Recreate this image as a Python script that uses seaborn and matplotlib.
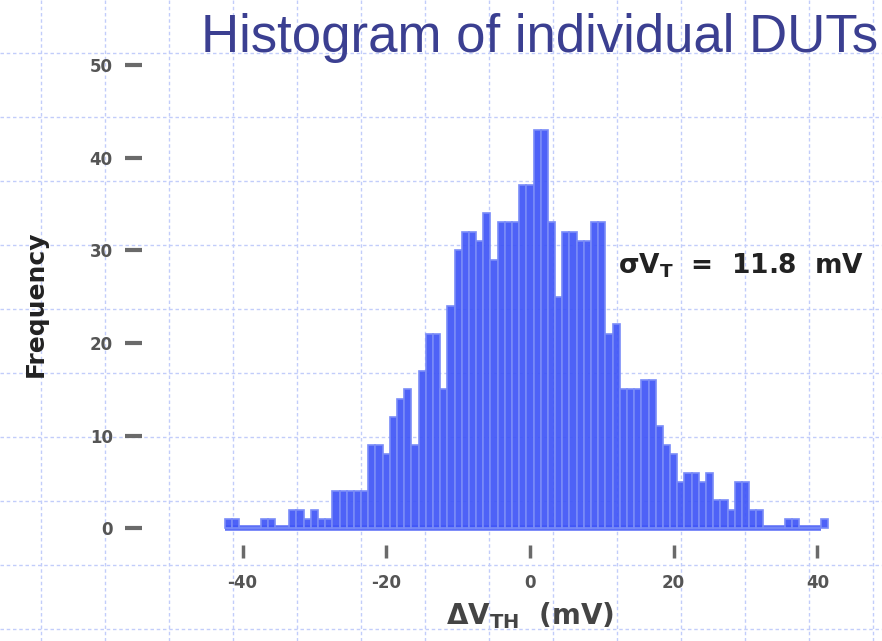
import numpy as np
import pandas as pd
import matplotlib
matplotlib.use("Agg")
import matplotlib.pyplot as plt
import seaborn as sns

# ---- data ----
bin_first_center = -42          # mV, bins are 1 mV wide
counts = [1, 1, 0, 0, 0, 1, 1, 0, 0, 2,
          2, 1, 2, 1, 1, 4, 4, 4, 4, 4,
          9, 9, 8, 12, 14, 15, 9, 17, 21, 21,
          15, 24, 30, 32, 32, 31, 34, 29, 33, 33,
          33, 37, 37, 43, 43, 33, 25, 32, 32, 31,
          31, 33, 33, 21, 22, 15, 15, 15, 16, 16,
          11, 9, 8, 5, 6, 6, 5, 6, 3, 3,
          2, 5, 5, 2, 2, 0, 0, 0, 1, 1,
          0, 0, 0, 1]
y_ticks = [0, 10, 20, 30, 40, 50]
x_ticks = [-40, -20, 0, 20, 40]
x_tick_labels = ["-40", "-20", "0", "20", "40"]
title = "Histogram of individual DUTs"
x_label = r"$\Delta V_{TH}$  (mV)"
y_label = "Frequency"
note = r"$\sigma V_T$  =  11.8  mV"

centers = bin_first_center + np.arange(len(counts))
edges = list(np.append(centers - 0.5, centers[-1] + 0.5))
df = pd.DataFrame({"center": centers.astype(float), "count": np.asarray(counts, dtype=float)})

sns.set_style("white")
plt.rcParams["font.family"] = ["DejaVu Sans"]
plt.rcParams["mathtext.default"] = "bf"
plt.rcParams["mathtext.fontset"] = "dejavusans"

fig = plt.figure(figsize=(8.82, 6.41), dpi=100)

# slide background: light dashed grid
bg = fig.add_axes([0, 0, 1, 1], zorder=0)
bg.set_xlim(0, 882)
bg.set_ylim(641, 0)
bg.set_xticks(np.arange(41, 882, 64))
bg.set_yticks(np.arange(53, 641, 64))
bg.grid(True, color="#c2cdfa", linestyle=(0, (2.5, 2)), linewidth=1.0)
bg.tick_params(length=0, labelbottom=False, labelleft=False)
for s in bg.spines.values():
    s.set_visible(False)

ax = fig.add_axes([0.161, 0.1498, 0.839, 0.7519], zorder=1)
ax.patch.set_alpha(0)
sns.histplot(data=df, x="center", weights="count", bins=edges, ax=ax,
             color="#3f55f7", edgecolor="#7a8cf8", linewidth=1.2,
             alpha=0.92)
ax.hlines(0, edges[0], edges[-1] - 1, color="#5c6ff7", linewidth=4, zorder=0.5)

ax.set_xlim(-54, 49)
ax.set_ylim(-1.8, 50.2)
ax.set_xticks(x_ticks)
ax.set_xticklabels(x_tick_labels)
ax.set_yticks(y_ticks)
ax.tick_params(axis="y", direction="out", length=12, width=3, color="#6a6a6a",
               pad=9, labelsize=12, labelcolor="#555555", left=True)
ax.tick_params(axis="x", direction="out", length=9, width=2.5, color="#6a6a6a",
               pad=12, labelsize=12, labelcolor="#555555", bottom=True)
for lab in ax.get_xticklabels() + ax.get_yticklabels():
    lab.set_fontweight("bold")
for s in ax.spines.values():
    s.set_visible(False)

ax.set_ylabel(y_label, fontsize=18, fontweight="bold", color="#222222", labelpad=30)
ax.set_xlabel(x_label, fontsize=20, fontweight="bold", color="#444444", labelpad=12)
ax.xaxis.set_label_coords(0.524, -0.115)
ax.text(12.3, 28.3, note, fontsize=19, fontweight="bold", color="#222222",
        va="center", ha="left")

fig.text(0.9955, 1 - 52 / 641, title, ha="right", va="baseline", fontsize=38,
         color="#3b3f91", family=["Liberation Sans", "DejaVu Sans"])

fig.savefig("out.png", dpi=100)
